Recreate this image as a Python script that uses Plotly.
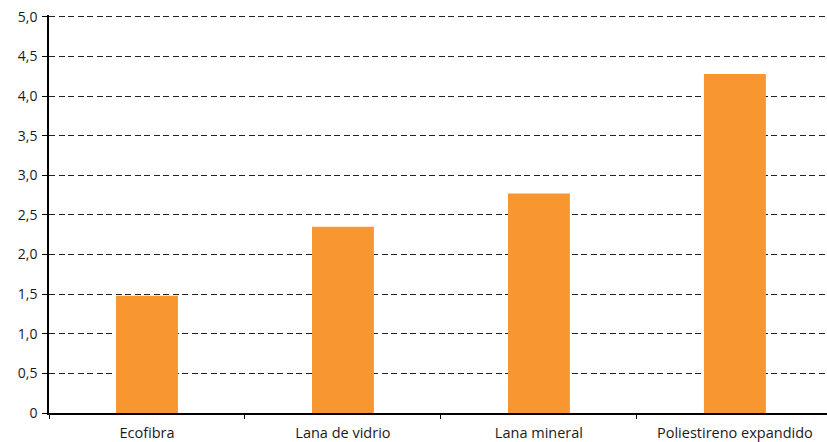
import plotly.graph_objects as go

categories = ["Ecofibra", "Lana de vidrio", "Lana mineral", "Poliestireno expandido"]
values = [1.48, 2.35, 2.77, 4.28]
ytick_vals = [0, 0.5, 1.0, 1.5, 2.0, 2.5, 3.0, 3.5, 4.0, 4.5, 5.0]
ytick_text = ["0", "0,5", "1,0", "1,5", "2,0", "2,5", "3,0", "3,5", "4,0", "4,5", "5,0"]

fig = go.Figure(go.Bar(
    x=categories, y=values,
    marker=dict(color="#F8972F", line=dict(width=0)),
    width=0.316,
))

xfont = dict(family="Open Sans, Lato, sans-serif", size=14.5, color="#1a1a1a")
yfont = dict(family="Open Sans, Lato, sans-serif", size=14, color="#1a1a1a")

fig.update_layout(
    width=827, height=442,
    margin=dict(l=49, r=0, t=15, b=29),
    paper_bgcolor="white", plot_bgcolor="white",
    showlegend=False,
    separators=",.",
    xaxis=dict(
        range=[-0.5, 3.47],
        showline=True, linecolor="#000000", linewidth=1.5,
        ticks="outside", tickson="boundaries", ticklen=4, tickcolor="#000000",
        showgrid=False, tickfont=xfont, ticklabelstandoff=6,
    ),
    yaxis=dict(
        range=[0, 5.025],
        tickvals=ytick_vals, ticktext=ytick_text,
        showline=True, linecolor="#000000", linewidth=1.5,
        ticks="outside", ticklen=5, tickcolor="#000000",
        showgrid=True, gridcolor="#222222", gridwidth=1, griddash="6px,3.5px",
        zeroline=False, tickfont=yfont, ticklabelstandoff=2,
    ),
)

fig.write_html("out.html")
